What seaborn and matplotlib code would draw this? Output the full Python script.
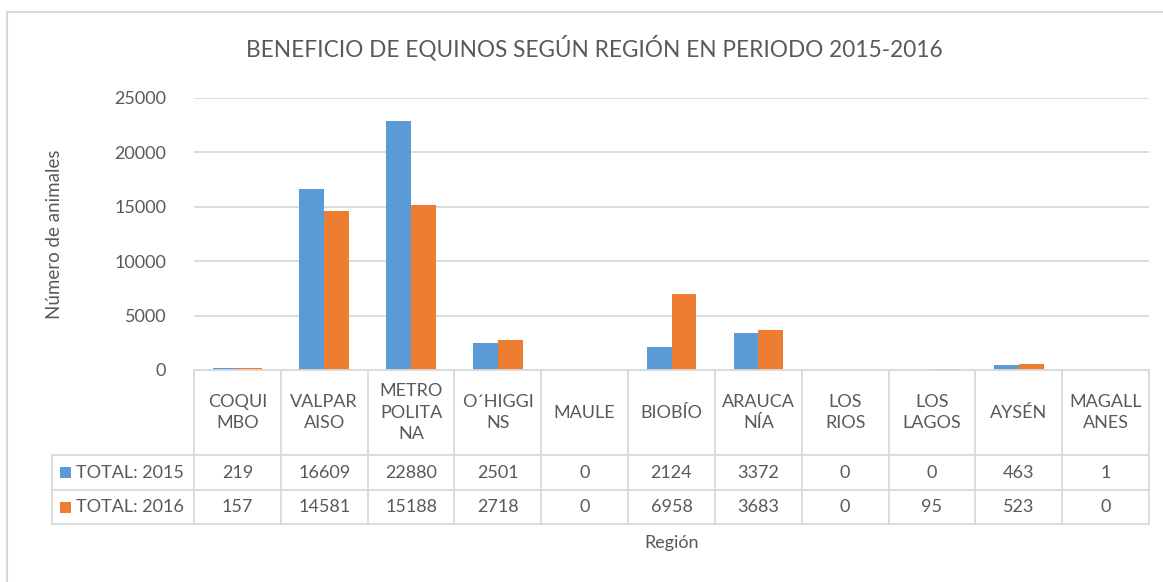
import pandas as pd
import numpy as np
import matplotlib.pyplot as plt
import matplotlib.transforms as mtransforms
from matplotlib.lines import Line2D
from matplotlib.patches import Rectangle
import seaborn as sns

# data
regiones = ["COQUIMBO", "VALPARAISO", "METROPOLITANA", "O´HIGGINS", "MAULE", "BIOBÍO",
            "ARAUCANÍA", "LOS RIOS", "LOS LAGOS", "AYSÉN", "MAGALLANES"]
etiquetas = ["COQUI\nMBO", "VALPAR\nAISO", "METRO\nPOLITA\nNA", "O´HIGGI\nNS", "MAULE", "BIOBÍO",
             "ARAUCA\nNÍA", "LOS\nRIOS", "LOS\nLAGOS", "AYSÉN", "MAGALL\nANES"]
total_2015 = [219, 16609, 22880, 2501, 0, 2124, 3372, 0, 0, 463, 1]
total_2016 = [157, 14581, 15188, 2718, 0, 6958, 3683, 0, 95, 523, 0]
series = ["TOTAL: 2015", "TOTAL: 2016"]
y_ticks = [0, 5000, 10000, 15000, 20000, 25000]

azul = "#5B9BD5"
naranja = "#ED7D31"
gris_txt = "#595959"
gris_lin = "#D9D9D9"

sns.set_style("white")
plt.rcParams["font.family"] = ["Lato", "DejaVu Sans"]

df = pd.DataFrame({
    "region": regiones * 2,
    "valor": total_2015 + total_2016,
    "serie": [series[0]] * len(regiones) + [series[1]] * len(regiones),
})

W, H = 1163, 582
fig = plt.figure(figsize=(W / 100, H / 100), dpi=100)
ax = fig.add_axes([194 / W, 1 - 370 / H, 955 / W, 272 / H])

sns.barplot(data=df, x="region", y="valor", hue="serie", order=regiones,
            palette=[azul, naranja], saturation=1, width=0.57, gap=0, linewidth=0,
            legend=False, ax=ax)

ax.set_xlim(-0.5, len(regiones) - 0.5)
ax.set_ylim(0, 25000)
ax.set_yticks(y_ticks)
ax.set_yticklabels([str(t) for t in y_ticks])
ax.grid(axis="y", color=gris_lin, linewidth=1.3)
ax.set_axisbelow(True)
ax.tick_params(axis="y", length=0, pad=20, labelsize=13, labelcolor=gris_txt)
ax.set_xticks([])
ax.set_xlabel("")
ax.set_ylabel("Número de animales", fontsize=13.5, color=gris_txt)
ax.yaxis.set_label_coords(-0.1375, 0.5)
for s in ax.spines.values():
    s.set_visible(False)

# data table below the chart
tr = mtransforms.blended_transform_factory(ax.transData, ax.transAxes)
px = 1 / 272
y_head = -85 * px
y_r1 = -120 * px
y_r2 = -154 * px
x_left = (52 - 194) / 86.8 - 0.5
n = len(regiones)

def linea(xs, ys):
    ax.add_line(Line2D(xs, ys, transform=tr, color=gris_lin, linewidth=1.3, clip_on=False))

linea([-0.5, n - 0.5], [0, 0])
linea([x_left, n - 0.5], [y_head, y_head])
linea([x_left, n - 0.5], [y_r1, y_r1])
linea([x_left, n - 0.5], [y_r2, y_r2])
linea([x_left, x_left], [y_head, y_r2])
for i in range(n + 1):
    linea([i - 0.5, i - 0.5], [0, y_r2])

for i, lab in enumerate(etiquetas):
    ax.text(i, y_head / 2, lab, transform=tr, ha="center", va="center",
            fontsize=13, color=gris_txt, linespacing=1.45, multialignment="center")
    ax.text(i, (y_head + y_r1) / 2, str(total_2015[i]), transform=tr, ha="center",
            va="center", fontsize=13, color=gris_txt)
    ax.text(i, (y_r1 + y_r2) / 2, str(total_2016[i]), transform=tr, ha="center",
            va="center", fontsize=13, color=gris_txt)

for (y0, y1), nombre, col in [((y_head, y_r1), series[0], azul), ((y_r1, y_r2), series[1], naranja)]:
    ym = (y0 + y1) / 2
    ax.add_patch(Rectangle((x_left + 8 / 86.8, ym - 5.5 * px), 11 / 86.8, 11 * px,
                           transform=tr, facecolor=col, edgecolor="none", clip_on=False))
    ax.text(x_left + 24 / 86.8, ym, nombre, transform=tr, ha="left", va="center",
            fontsize=13, color=gris_txt)

ax.text(0.5, (370 - 543) / 272, "Región", transform=ax.transAxes, ha="center",
        va="center", fontsize=13, color=gris_txt)

fig.text(594 / W, 1 - 48 / H, "BENEFICIO DE EQUINOS SEGÚN REGIÓN EN PERIODO 2015-2016",
         ha="center", va="center", fontsize=16.3, color=gris_txt)

fig.add_artist(Rectangle((7 / W, -0.05), 1.1, 1 - 12 / H + 0.05, transform=fig.transFigure,
                         facecolor="none", edgecolor=gris_lin, linewidth=1.5))

fig.savefig("out.png", dpi=100)
